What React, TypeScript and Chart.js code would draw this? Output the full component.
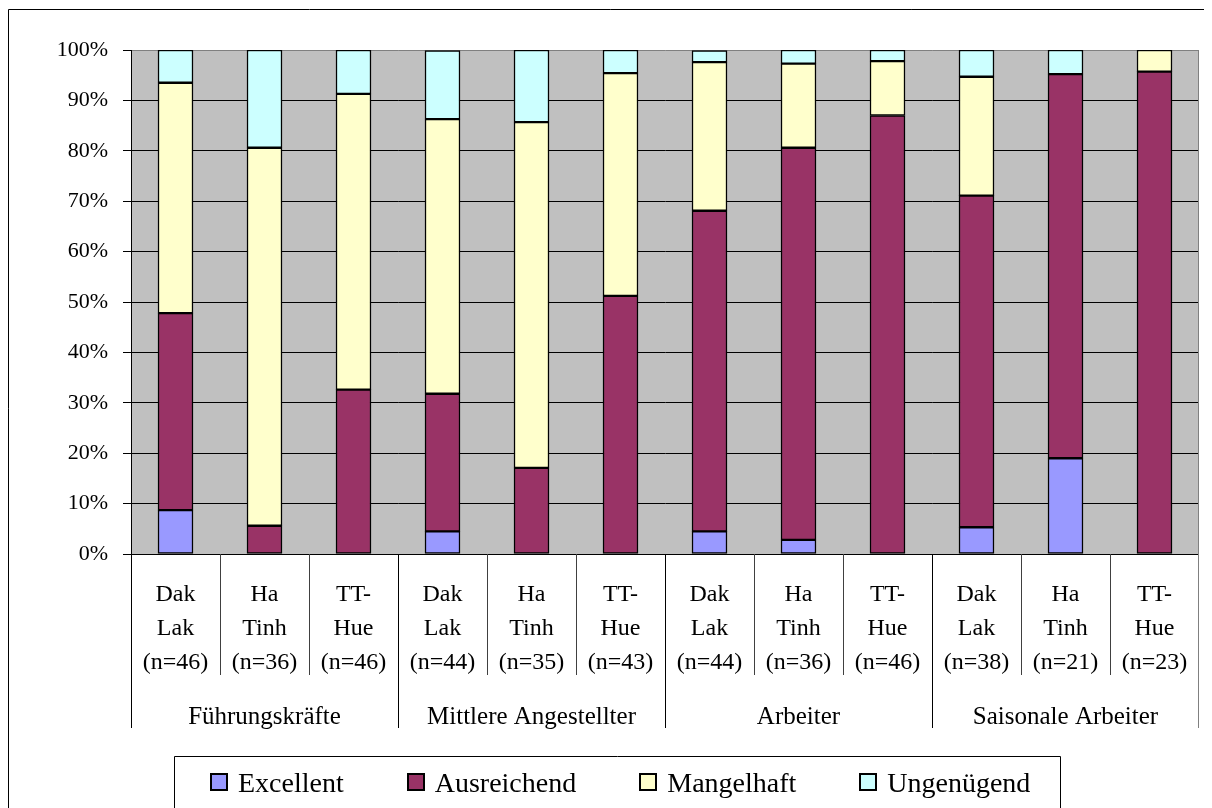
import React, { useEffect, useRef } from "react";
import { Chart, registerables } from "chart.js";

Chart.register(...registerables);

// ---------- data ----------
const categoryLines: string[][] = [
  ["Dak", "Lak", "(n=46)"],
  ["Ha", "Tinh", "(n=36)"],
  ["TT-", "Hue", "(n=46)"],
  ["Dak", "Lak", "(n=44)"],
  ["Ha", "Tinh", "(n=35)"],
  ["TT-", "Hue", "(n=43)"],
  ["Dak", "Lak", "(n=44)"],
  ["Ha", "Tinh", "(n=36)"],
  ["TT-", "Hue", "(n=46)"],
  ["Dak", "Lak", "(n=38)"],
  ["Ha", "Tinh", "(n=21)"],
  ["TT-", "Hue", "(n=23)"],
];
const groupLabels = ["Führungskräfte", "Mittlere Angestellter", "Arbeiter", "Saisonale Arbeiter"];
const groupSize = 3;

const seriesNames = ["Excellent", "Ausreichend", "Mangelhaft", "Ungenügend"];
const excellent = [8.7, 0, 0, 4.5, 0, 0, 4.5, 2.8, 0, 5.3, 19.0, 0];
const ausreichend = [39.1, 5.6, 32.6, 27.3, 17.1, 51.2, 63.6, 77.8, 87.0, 65.8, 76.2, 95.7];
const mangelhaft = [45.7, 75.0, 58.7, 54.5, 68.6, 44.2, 29.5, 16.7, 10.8, 23.6, 0, 4.3];
const ungenuegend = [6.5, 19.4, 8.7, 13.6, 14.3, 4.6, 2.3, 2.7, 2.2, 5.3, 4.8, 0];
const seriesColors = ["#9999FF", "#993366", "#FFFFCC", "#CCFFFF"];

const yMin = 0;
const yMax = 100;
const yStep = 10;

const FONT = '"Liberation Serif", "Times New Roman", serif';

const decorPlugin = {
  id: "decor",
  beforeDraw(chart: any) {
    const { ctx, chartArea: a } = chart;
    ctx.save();
    ctx.fillStyle = "#ffffff";
    ctx.fillRect(0, 0, chart.width, chart.height);
    ctx.fillStyle = "#C0C0C0";
    ctx.fillRect(a.left, a.top, a.right - a.left, a.bottom - a.top);
    // outer frame (top + left visible)
    ctx.strokeStyle = "#000";
    ctx.lineWidth = 1;
    ctx.beginPath();
    ctx.moveTo(0.5, chart.height);
    ctx.lineTo(0.5, 1.5);
    ctx.lineTo(chart.width, 1.5);
    ctx.stroke();
    ctx.restore();
  },
  afterDraw(chart: any) {
    const { ctx, chartArea: a } = chart;
    const xs = chart.scales.x;
    const n = categoryLines.length;
    const catW = (a.right - a.left) / n;
    ctx.save();
    // right plot border (gray) + extension
    ctx.lineWidth = 1;
    ctx.strokeStyle = "#808080";
    ctx.beginPath();
    ctx.moveTo(Math.round(a.right) - 0.5, a.top);
    ctx.lineTo(Math.round(a.right) - 0.5, 720);
    ctx.stroke();

    // separators
    for (let i = 0; i < n; i++) {
      const x = Math.round(a.left + i * catW) + 0.5;
      const isGroup = i % groupSize === 0;
      ctx.strokeStyle = isGroup ? "#000" : "#404040";
      ctx.beginPath();
      ctx.moveTo(x, a.bottom);
      ctx.lineTo(x, isGroup ? 720 : 667);
      ctx.stroke();
    }

    // category labels
    ctx.fillStyle = "#000";
    ctx.font = `24px ${FONT}`;
    ctx.textAlign = "center";
    ctx.textBaseline = "alphabetic";
    const baseY = [593, 627, 661];
    categoryLines.forEach((lines, i) => {
      const cx = xs.getPixelForValue(i);
      lines.forEach((t, k) => ctx.fillText(t, cx, baseY[k]));
    });

    // group labels
    ctx.font = `25px ${FONT}`;
    groupLabels.forEach((g, gi) => {
      const x0 = a.left + gi * groupSize * catW;
      const x1 = x0 + groupSize * catW;
      ctx.fillText(g, (x0 + x1) / 2, 716);
    });

    // legend
    ctx.font = `28px ${FONT}`;
    ctx.textAlign = "left";
    const boxLeft = 166;
    const boxTop = 748;
    let x = 202;
    const sq = 18;
    const items: { x: number; w: number }[] = [];
    seriesNames.forEach((name) => {
      const w = ctx.measureText(name).width;
      items.push({ x, w });
      x += sq + 10 + w + 63;
    });
    const last = items[items.length - 1];
    const boxRight = Math.round(last.x + sq + 10 + last.w + 30);
    ctx.strokeStyle = "#000";
    ctx.lineWidth = 1;
    ctx.beginPath();
    ctx.moveTo(boxLeft + 0.5, chart.height + 5);
    ctx.lineTo(boxLeft + 0.5, boxTop + 0.5);
    ctx.lineTo(boxRight + 0.5, boxTop + 0.5);
    ctx.lineTo(boxRight + 0.5, chart.height + 5);
    ctx.stroke();
    seriesNames.forEach((name, i) => {
      const it = items[i];
      const sx = Math.round(it.x);
      ctx.fillStyle = seriesColors[i];
      ctx.fillRect(sx, 765, sq, sq);
      ctx.strokeStyle = "#000";
      ctx.lineWidth = 2;
      ctx.strokeRect(sx + 1, 766, sq - 2, sq - 2);
      ctx.fillStyle = "#000";
      ctx.fillText(name, it.x + sq + 10, 784);
    });
    ctx.restore();
  },
};

export default function App() {
  const ref = useRef<HTMLCanvasElement | null>(null);

  useEffect(() => {
    if (!ref.current) return;
    const seriesData = [excellent, ausreichend, mangelhaft, ungenuegend];
    const chart = new Chart(ref.current, {
      type: "bar",
      data: {
        labels: categoryLines.map((l) => l.join(" ")),
        datasets: seriesNames.map((name, i) => ({
          label: name,
          data: seriesData[i],
          backgroundColor: seriesColors[i],
          borderColor: "#000",
          borderWidth: 1.5,
          borderSkipped: false,
          barThickness: 35,
          categoryPercentage: 1,
        })),
      },
      options: {
        animation: false,
        responsive: false,
        devicePixelRatio: 1,
        layout: { padding: { left: 0, top: 42, right: 13, bottom: 254 } },
        plugins: {
          legend: { display: false },
          tooltip: { enabled: false },
        },
        scales: {
          x: {
            stacked: true,
            display: false,
          },
          y: {
            stacked: true,
            min: yMin,
            max: yMax,
            afterFit: (s: any) => {
              s.width = 123;
            },
            ticks: {
              stepSize: yStep,
              callback: (v: any) => `${v}%`,
              color: "#000",
              font: { family: FONT, size: 22 },
              padding: 15,
            },
            grid: {
              color: (c: any) => (c.tick && c.tick.value === yMax ? "#808080" : "#000"),
              tickColor: "#000",
              tickLength: 8,
              drawTicks: true,
              lineWidth: 1,
            },
            border: { display: true, color: "#000", width: 1 },
          },
        },
      },
      plugins: [decorPlugin],
    });
    return () => chart.destroy();
  }, []);

  return (
    <div style={{ width: 1204, height: 800, position: "relative" }}>
      <style>{"html,body{overflow:hidden}"}</style>
      <canvas ref={ref} width={1204} height={800} style={{ display: "block", width: 1204, height: 800 }} />
    </div>
  );
}
